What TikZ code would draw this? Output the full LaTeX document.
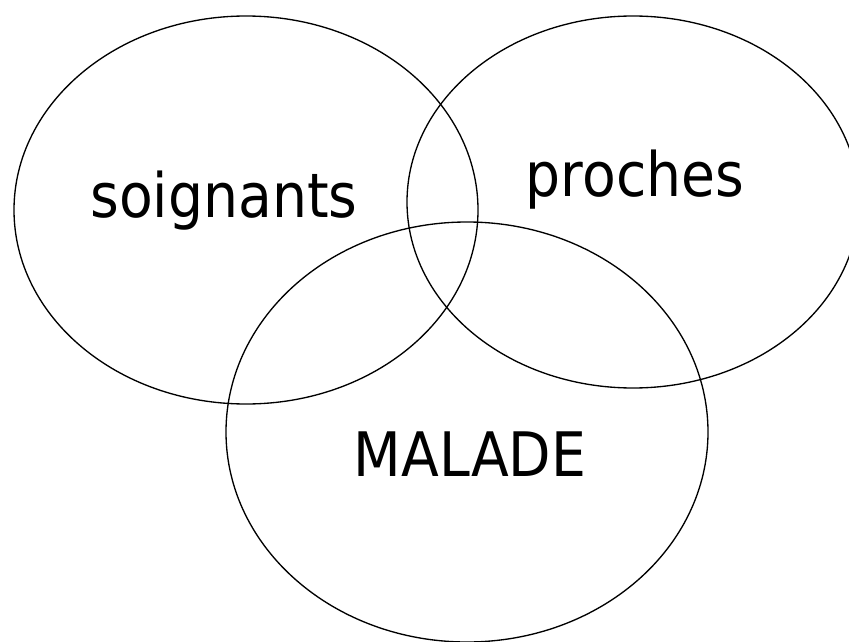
\documentclass[tikz,border=0pt]{standalone}
\usepackage{fontspec}
\setmainfont{DejaVu Sans Condensed}
\tikzset{
  lbl/.style={font=\fontsize{46}{52}\selectfont, anchor=base, inner sep=0pt},
  cercle/.style={line width=1pt}
}
\begin{document}
\begin{tikzpicture}[x=0.75pt, y=-0.75pt]
        \useasboundingbox (0,0) rectangle (849,642);
        % les trois ensembles
        \draw[cercle] (246,210) ellipse [x radius=232, y radius=194];
        \draw[cercle] (633,202) ellipse [x radius=226, y radius=186];
        \draw[cercle] (467,432) ellipse [x radius=241, y radius=210];

        % textes
        \node[lbl] (soignants) at (224,217) {soignants};
        \node[lbl] (proches) at (635,196) {proches};
        \node[lbl] (malade) at (470,476) {MALADE};
\end{tikzpicture}
\end{document}
